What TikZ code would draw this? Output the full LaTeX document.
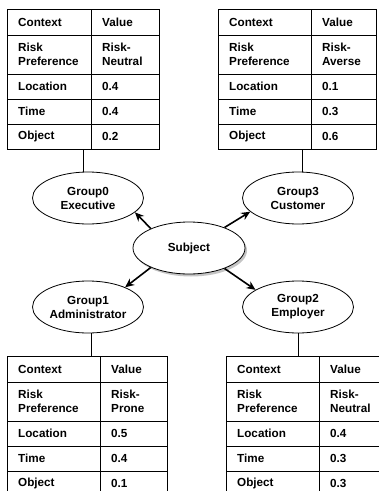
\documentclass[tikz,border=0pt]{standalone}
\usepackage{fontspec}
\setmainfont{Liberation Sans}
\usetikzlibrary{shapes.geometric,shadows,arrows.meta}

\tikzset{
  txt/.style={font=\fontsize{11.7}{14}\selectfont\bfseries, inner sep=0pt},
  cell/.style={txt, anchor=west, align=left},
  frame/.style={draw, line width=1pt, inner sep=0pt, anchor=north west},
  grid/.style={line width=1pt},
  group/.style={ellipse, draw, line width=0.8pt, fill=white, txt, align=center,
    minimum width=111pt, minimum height=52pt},
  link/.style={line width=0.8pt},
  arr/.style={-{Stealth[length=9pt,width=8pt]}, line width=1.6pt},
}

% context table: name, left, divider, right, top, risk value, location, time, object
\newcommand\ctxtable[9]{%
  \node[frame, minimum width={#4-#2}, minimum height=140] (#1) at (#2,#5) {};
  \draw[grid] (#3,#5) -- (#3,#5+140);
  \foreach \d in {26,65,90,115} \draw[grid] (#2,#5+\d) -- (#4,#5+\d);
  \node[cell] (#1-h1) at (#2+11,#5+13)  {Context};
  \node[cell] (#1-h2) at (#3+11,#5+13)  {Value};
  \node[cell] (#1-r1) at (#2+11,#5+45.5) {Risk\\Preference};
  \node[cell] (#1-v1) at (#3+11,#5+45.5) {#6};
  \node[cell] (#1-r2) at (#2+11,#5+77.5) {Location};
  \node[cell] (#1-v2) at (#3+11,#5+77.5) {#7};
  \node[cell] (#1-r3) at (#2+11,#5+102.5) {Time};
  \node[cell] (#1-v3) at (#3+11,#5+102.5) {#8};
  \node[cell] (#1-r4) at (#2+11,#5+127.5) {Object};
  \node[cell] (#1-v4) at (#3+11,#5+127.5) {#9};
}

\begin{document}
\begin{tikzpicture}[x=1pt,y=-1pt]
  \clip (0,0) rectangle (379,491);
  \fill[white] (0,0) rectangle (379,491);

  % context tables
  \ctxtable{t0}{7}{91}{159}{9}{Risk-\\Neutral}{0.4}{0.4}{0.2}
  \ctxtable{t3}{218}{311}{376}{9}{Risk-\\Averse}{0.1}{0.3}{0.6}
  \ctxtable{t1}{7}{100}{167}{356}{Risk-\\Prone}{0.5}{0.4}{0.1}
  \ctxtable{t2}{226}{319}{386}{356}{Risk-\\Neutral}{0.4}{0.3}{0.3}

  % groups and subject
  \node[group] (g0) at (88,198) {Group0\\Executive};
  \node[group] (g3) at (298,198) {Group3\\Customer};
  \node[group] (g1) at (88,307) {Group1\\Administrator};
  \node[group] (g2) at (298,307) {Group2\\Employer};
  \node[group, minimum width=112pt, minimum height=52pt,
        drop shadow={shadow xshift=2pt, shadow yshift=-2.5pt, fill=black!45}]
        (s) at (189,248) {Subject};

  % table links
  \coordinate (k0) at (83,0);
  \coordinate (k3) at (302,0);
  \coordinate (k1) at (91,0);
  \coordinate (k2) at (298,0);
  \draw[link] (k0 |- t0.south) -- (k0 |- g0.north);
  \draw[link] (k3 |- t3.south) -- (k3 |- g3.north);
  \draw[link] (k1 |- g1.south) -- (k1 |- t1.north);
  \draw[link] (k2 |- g2.south) -- (k2 |- t2.north);

  % subject to groups
  \draw[arr] (s.153) -- (g0.-17);
  \draw[arr] (s.30) -- (g3.196);
  \draw[arr] (s.207) -- (g1.28);
  \draw[arr] (s.-30) -- (g2.158);
\end{tikzpicture}
\end{document}
